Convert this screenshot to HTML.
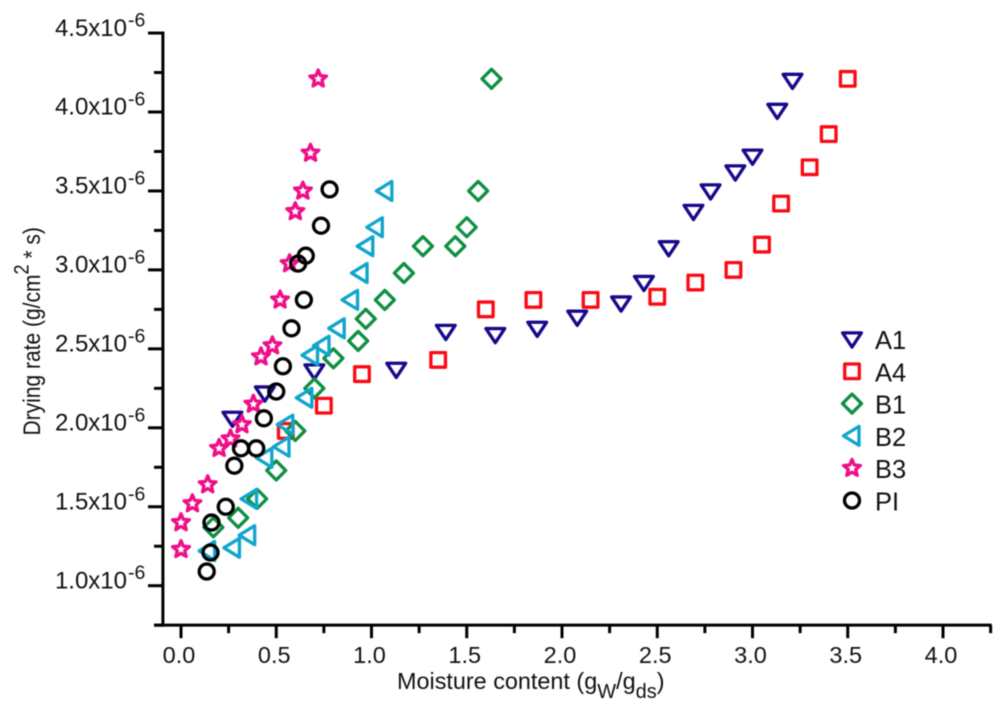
<!DOCTYPE html>
<html>
<head>
<meta charset="utf-8">
<style>
html,body{margin:0;padding:0;background:#fff;}
svg{display:block;filter:blur(0.4px);font-family:"Liberation Sans",Arial,sans-serif;}
</style>
</head>
<body>
<svg id="chart" width="1000" height="710" viewBox="0 0 1000 710" xmlns="http://www.w3.org/2000/svg">
  <rect width="1000" height="710" fill="#fff"/>
  <g id="axes"></g>
  <g id="marks"></g>
  <g id="legend"></g>
  <text x="397" y="689" font-size="23.4" fill="#111">Moisture content (g<tspan font-size="20" dy="9">W</tspan><tspan dy="-9">/g</tspan><tspan font-size="20" dy="9">ds</tspan><tspan dy="-9">)</tspan></text>
  <text transform="translate(40,435.5) rotate(-90) scale(1,1.16)" font-size="21" fill="#111">Drying rate (g/cm<tspan font-size="18" dy="-10">2</tspan><tspan dy="10"> * s)</tspan></text>
</svg>
<script>
const xMajorTicks = [0, 0.5, 1, 1.5, 2, 2.5, 3, 3.5, 4];
const xMinorTicks = [0.25, 0.75, 1.25, 1.75, 2.25, 2.75, 3.25, 3.75, 4.25];
const xTickLabels = ['0.0', '0.5', '1.0', '1.5', '2.0', '2.5', '3.0', '3.5', '4.0'];
const yMajorTicks = [1, 1.5, 2, 2.5, 3, 3.5, 4, 4.5];
const yMinorTicks = [0.75, 1.25, 1.75, 2.25, 2.75, 3.25, 3.75, 4.25];
const yTickLabels = ['1.0x10', '1.5x10', '2.0x10', '2.5x10', '3.0x10', '3.5x10', '4.0x10', '4.5x10'];
const yTickExponent = '-6';
const seriesNames = ['A1', 'A4', 'B1', 'B2', 'B3', 'PI'];

const a1X = [0.27, 0.44, 0.70, 1.13, 1.39, 1.65, 1.87, 2.08, 2.31, 2.43, 2.56, 2.69, 2.78, 2.91, 3.00, 3.13, 3.21];
const a1Y = [2.06, 2.22, 2.36, 2.37, 2.61, 2.59, 2.63, 2.70, 2.79, 2.92, 3.14, 3.37, 3.50, 3.62, 3.72, 4.01, 4.20];
const a4X = [0.55, 0.75, 0.95, 1.35, 1.60, 1.85, 2.15, 2.50, 2.70, 2.90, 3.05, 3.15, 3.30, 3.40, 3.50];
const a4Y = [1.98, 2.14, 2.34, 2.43, 2.75, 2.81, 2.81, 2.83, 2.92, 3.00, 3.16, 3.42, 3.65, 3.86, 4.21];
const b1X = [1.63, 1.56, 1.50, 1.44, 1.27, 1.17, 1.07, 0.97, 0.93, 0.80, 0.70, 0.60, 0.50, 0.40, 0.30, 0.17];
const b1Y = [4.21, 3.50, 3.27, 3.15, 3.15, 2.98, 2.81, 2.69, 2.55, 2.44, 2.25, 1.98, 1.73, 1.55, 1.43, 1.37];
const b2X = [1.07, 1.02, 0.97, 0.94, 0.89, 0.82, 0.74, 0.68, 0.65, 0.55, 0.53, 0.44, 0.36, 0.35, 0.27, 0.14];
const b2Y = [3.50, 3.27, 3.15, 2.98, 2.81, 2.63, 2.52, 2.46, 2.19, 2.02, 1.88, 1.81, 1.55, 1.32, 1.24, 1.22];
const b3X = [0.72, 0.68, 0.64, 0.60, 0.57, 0.52, 0.48, 0.42, 0.38, 0.32, 0.26, 0.20, 0.14, 0.06, 0.00, 0.00];
const b3Y = [4.21, 3.74, 3.50, 3.37, 3.04, 2.81, 2.52, 2.45, 2.15, 2.02, 1.93, 1.87, 1.64, 1.52, 1.40, 1.23];
const piX = [0.78, 0.735, 0.655, 0.615, 0.645, 0.58, 0.535, 0.50, 0.435, 0.395, 0.315, 0.28, 0.235, 0.16, 0.155, 0.135];
const piY = [3.51, 3.28, 3.09, 3.04, 2.81, 2.63, 2.39, 2.23, 2.06, 1.87, 1.87, 1.76, 1.50, 1.40, 1.21, 1.09];

const NS = 'http://www.w3.org/2000/svg';
const sx = v => 181 + 190.5 * v;
const sy = v => 585.7 - 157.9 * (v - 1);
const axesG = document.getElementById('axes');
const marksG = document.getElementById('marks');
const legendG = document.getElementById('legend');

function line(parent, x1, y1, x2, y2, w, name) {
  const el = document.createElementNS(NS, 'line');
  el.setAttribute('x1', x1);
  el.setAttribute('y1', y1);
  el.setAttribute('x2', x2);
  el.setAttribute('y2', y2);
  el.setAttribute('stroke', '#000');
  el.setAttribute('stroke-width', w);
  
  
  parent.appendChild(el);
}
function label(parent, x, y, str, size, anchor, name) {
  const el = document.createElementNS(NS, 'text');
  el.setAttribute('x', x);
  el.setAttribute('y', y);
  el.setAttribute('font-size', size);
  el.setAttribute('text-anchor', anchor);
  el.setAttribute('fill', '#111');
  
  
  el.textContent = str;
  parent.appendChild(el);
}

const axisX = sx(-0.095);
const axisY = sy(0.75);
line(axesG, sx(-0.095), sy(4.5) - 1.5, sx(-0.095), axisY + 1.5, 3, 'y-axis-line');
line(axesG, 154, axisY, sx(4.25) + 1, axisY, 3, 'x-axis-line');

xMajorTicks.forEach((v, i) => {
  line(axesG, sx(v), axisY, sx(v), axisY + 13, 3, 'x-major-tick');
  label(axesG, sx(v) - 2, 663, xTickLabels[i], 23.5, 'middle', 'x-tick-label');
});
xMinorTicks.forEach(v => {
  line(axesG, sx(v), axisY, sx(v), axisY + 8, 3, 'x-minor-tick');
});
yMajorTicks.forEach((v, i) => {
  line(axesG, 148, sy(v), axisX, sy(v), 3, 'y-major-tick');
  label(axesG, 127, sy(v) + 2.7, yTickLabels[i], 24, 'end', 'y-tick-label');
  label(axesG, 128, sy(v) - 6.5, yTickExponent, 19.5, 'start', 'y-tick-exponent');
});
yMinorTicks.forEach(v => {
  line(axesG, 154, sy(v), axisX, sy(v), 3, 'y-minor-tick');
});

function starPoints(cx, cy, R, r) {
  const pts = [];
  for (let i = 0; i < 10; i++) {
    const a = -Math.PI / 2 + i * Math.PI / 5;
    const rad = i % 2 ? r : R;
    pts.push((cx + rad * Math.cos(a)).toFixed(1) + ',' + (cy + rad * Math.sin(a)).toFixed(1));
  }
  return pts.join(' ');
}
function poly(cx, cy, offsets) {
  return offsets.map(p => (cx + p[0]) + ',' + (cy + p[1])).join(' ');
}
function drawMarker(parent, kind, cx, cy, name) {
  let el;
  let color;
  if (kind === 'A1') {
    el = document.createElementNS(NS, 'polygon');
    el.setAttribute('points', poly(cx, cy, [[-9.4, -6.1], [9.4, -6.1], [0, 8.1]]));
    color = '#17098a';
  } else if (kind === 'A4') {
    el = document.createElementNS(NS, 'rect');
    el.setAttribute('x', cx - 7.3);
    el.setAttribute('y', cy - 7.3);
    el.setAttribute('width', 14.6);
    el.setAttribute('height', 14.6);
    color = '#fa0a14';
  } else if (kind === 'B1') {
    el = document.createElementNS(NS, 'polygon');
    el.setAttribute('points', poly(cx, cy, [[-9.5, 0], [0, -9.5], [9.5, 0], [0, 9.5]]));
    color = '#0f8f42';
  } else if (kind === 'B2') {
    el = document.createElementNS(NS, 'polygon');
    el.setAttribute('points', poly(cx, cy, [[-8.5, 0], [7, -9.5], [7, 9.5]]));
    color = '#10a5cc';
  } else if (kind === 'B3') {
    el = document.createElementNS(NS, 'polygon');
    el.setAttribute('points', starPoints(cx, cy, 8.8, 3.9));
    color = '#ee0f88';
  } else {
    el = document.createElementNS(NS, 'circle');
    el.setAttribute('cx', cx);
    el.setAttribute('cy', cy);
    el.setAttribute('r', 7.5);
    color = '#000';
  }
  el.setAttribute('fill', 'none');
  el.setAttribute('stroke', color);
  el.setAttribute('stroke-width', 3.3);
  el.setAttribute('stroke-linejoin', 'round');
  
  
  parent.appendChild(el);
}

const seriesX = [a1X, a4X, b1X, b2X, b3X, piX];
const seriesY = [a1Y, a4Y, b1Y, b2Y, b3Y, piY];
seriesNames.forEach((s, k) => {
  seriesX[k].forEach((xv, i) => {
    drawMarker(marksG, s, sx(xv), sy(seriesY[k][i]), 'point-' + s.toLowerCase());
  });
});

const legendRowTop = 339;
const legendRowGap = 32.3;
seriesNames.forEach((s, k) => {
  const y = legendRowTop + k * legendRowGap;
  drawMarker(legendG, s, 852, y, 'legend-marker-' + s.toLowerCase());
  label(legendG, 875, y + 10, s, 25.5, 'start', 'legend-label-' + s.toLowerCase());
});
</script>
</body>
</html>
